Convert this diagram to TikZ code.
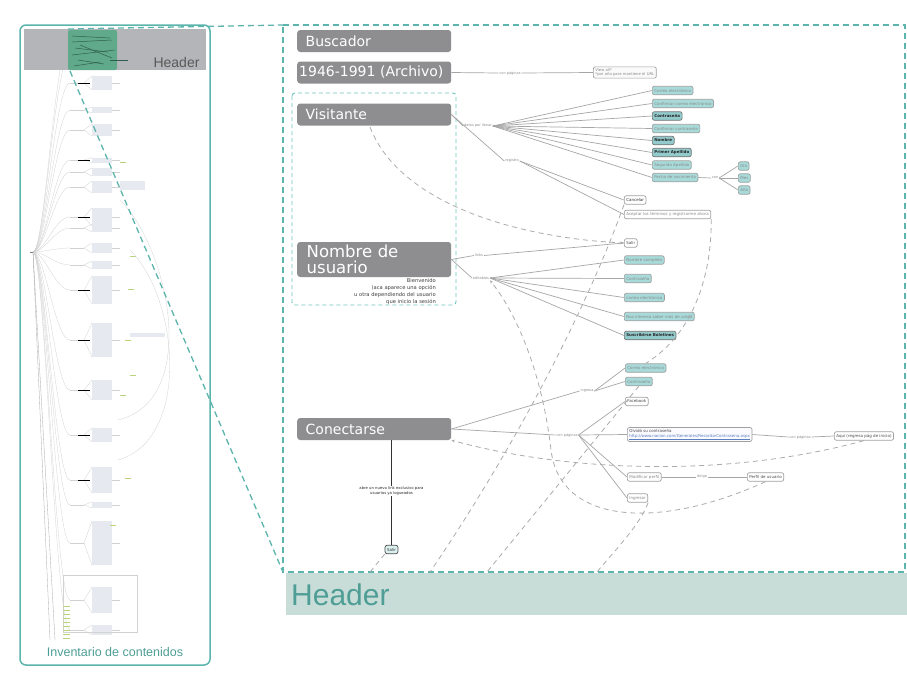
\documentclass[tikz,border=0pt]{standalone}
\usepackage{fontspec}
\setmainfont{DejaVu Sans}
\newfontfamily\hfont{Liberation Sans}
\usetikzlibrary{arrows.meta}
\definecolor{boxgray}{HTML}{8E8E90}
\definecolor{sgray}{HTML}{A0A0A0}
\definecolor{tealfill}{HTML}{A8DADA}
\definecolor{tealfilldk}{HTML}{93CACB}
\definecolor{txtgray}{HTML}{8A8A8A}
\definecolor{lgray}{HTML}{A6A6A6}
\definecolor{dgray}{HTML}{ABABAB}
\definecolor{tealborder}{HTML}{5CB5AC}
\definecolor{tealbox}{HTML}{6CC4BF}
\definecolor{headband}{HTML}{C8DCD8}
\definecolor{headtxt}{HTML}{4E9E96}
\definecolor{leftband}{HTML}{B4B5B9}
\definecolor{greenrect}{HTML}{60A98A}
\definecolor{darkgreen}{HTML}{2F5E4C}
\definecolor{urlblue}{HTML}{5A7FC0}
\definecolor{thumbblk}{HTML}{E6EAF0}
\definecolor{thumbline}{HTML}{D2D2D2}
\definecolor{thumbgreen}{HTML}{B9D47C}
\tikzset{
  bigbox/.style={rectangle, rounded corners=3pt, fill=boxgray, text=white,
    font=\fontsize{14}{15}\selectfont, minimum height=22pt, text width=137pt,
    inner xsep=8.5pt, inner ysep=0pt, align=left, anchor=west},
  smallbox/.style={rectangle, rounded corners=2pt, draw=sgray, line width=0.7pt,
    fill=white, font=\fontsize{4}{4.8}\selectfont, text=txtgray,
    inner xsep=2pt, inner ysep=1.5pt, minimum height=8.5pt, anchor=west},
  tealnode/.style={smallbox, fill=tealfill},
  tealbold/.style={smallbox, fill=tealfilldk, draw=gray!90!black, text=black!85,
    font=\fontsize{4}{4.8}\selectfont\bfseries},
  darknode/.style={smallbox, text=black!80},
  lbl/.style={font=\fontsize{3.5}{4}\selectfont, text=txtgray, fill=white, inner sep=0.8pt},
  conn/.style={draw=lgray, line width=0.7pt},
  dsh/.style={draw=dgray, line width=0.8pt, dash pattern=on 5pt off 4pt},
  tealdash/.style={draw=tealborder, line width=1.3pt, dash pattern=on 6pt off 4pt},
  thumb/.style={draw=thumbline, line width=0.3pt},
}
\begin{document}
\begin{tikzpicture}[x=1pt,y=-1pt]
\useasboundingbox (0,0) rectangle (907,675);
\fill[white] (0,0) rectangle (907,675);

% ================= LEFT PANEL (overview thumbnail) =================
\coordinate (root) at (33,252);
\foreach \yy/\hh in {40/4,55/3,83/14,110/6,130/12,160/5,172/8,187/12,217/18,228/8,248/10,265/8,290/28,340/34,390/20,435/14,480/26,505/6,543/44,600/26,630/10}{
  \draw[thumb] (root) .. controls (45,252) and (55,\yy) .. (70,\yy);
  \draw[thumb] (70,\yy) -- (84,\yy);
  \fill[thumbblk] (92,\yy-\hh/2) rectangle (112,\yy+\hh/2);
  \draw[thumb] (84,\yy) -- (92,\yy-\hh/2);
  \draw[thumb] (84,\yy) -- (92,\yy+\hh/2);
  \draw[thumb] (112,\yy) -- (120,\yy);
}
\foreach \yy in {83,160,217,290,340,390,435,480}{
  \draw[black, line width=0.8pt] (78,\yy) -- (90,\yy);
}
\foreach \yy/\xx in {162/120,256/130,289/128,340/125,375/130,395/120,478/125,525/110}{
  \draw[thumbgreen, line width=1pt] (\xx,\yy) -- (\xx+6,\yy);
}
\fill[thumbblk] (120,181) rectangle (145,190);
\fill[thumbblk] (130,333) rectangle (165,337);
\draw[thumb] (118,420) .. controls (200,400) and (170,250) .. (120,200);
\draw[thumb] (118,460) .. controls (190,440) and (180,300) .. (130,250);
\draw[thumb] (63,575) rectangle (137,632);
\foreach \yy in {606,610,614,618,622,626,630,634,638}{
  \draw[thumbgreen, line width=0.8pt] (63,\yy) -- (70,\yy);
}
\draw[gray, line width=0.4pt] (33,252) -- (30,252);
\draw[thumb, draw=gray!70] (root) -- (55,640);
\draw[thumb, draw=gray!70] (root) -- (50,640);

% header band in thumbnail
\fill[leftband] (24,29) rectangle (206,70);
\fill[greenrect, rounded corners=2pt] (68,30) rectangle (117,70);
\foreach \a/\b/\c/\d in {72/36/110/38, 72/42/112/40, 75/48/108/52, 72/55/115/50, 78/60/104/64, 80/45/112/58, 74/66/100/62}{
  \draw[darkgreen, line width=0.5pt] (\a,\b) -- (\c,\d);
}
\draw[darkgreen, line width=0.5pt] (110,60) -- (128,60);
\node[font=\hfont\fontsize{14}{16}\selectfont, text=black!65, anchor=base east] (lefthead) at (203,67) {Header};

\draw[draw=tealborder, line width=1.5pt, rounded corners=6pt] (20,25) rectangle (210,665);
\node[font=\hfont\fontsize{12.5}{14}\selectfont, text=headtxt] (inv) at (115,652) {Inventario de contenidos};

% ================= RIGHT PANEL =================
\fill[headband] (286,573) rectangle (907,615);
\node[font=\hfont\fontsize{30}{34}\selectfont, text=headtxt, anchor=west, inner sep=0pt] (header) at (291,595) {Header};

% zoom indicator lines
\draw[tealdash] (68,29) -- (283,25);
\draw[tealdash] (70,71) -- (283,572);
\draw[tealdash] (283,25) -- (905,25) -- (905,572) -- (283,572) -- cycle;

% Visitante group box
\draw[draw=tealbox, line width=0.9pt, dash pattern=on 4pt off 3pt, rounded corners=3pt] (292,93) rectangle (456,305);

% big gray nodes
\node[bigbox] (bus) at (297,41) {Buscador};
\node[bigbox, inner xsep=2pt, text width=150pt] (arch) at (297,72.5) {1946-1991 (Archivo)};
\node[bigbox] (vis) at (297,114.5) {Visitante};
\node[bigbox, font=\fontsize{16.5}{15.5}\selectfont, minimum height=35pt, inner xsep=9.5pt, text width=135pt] (nom) at (297,259.5) {Nombre de\\usuario};
\node[font=\fontsize{5.2}{6.8}\selectfont, text=black!75, align=right, anchor=north east, inner sep=0pt] (bienv) at (436,278.5) {Bienvenido\\(aca aparece una opción\\u otra dependiendo del usuario\\que inicio la sesión};
\node[bigbox] (con) at (297,429) {Conectarse};

% ---- Archivo
\node[lbl] (lcp1) at (510,73) {con páginas};
\node[smallbox, fill=gray!4, align=left, font=\fontsize{3.8}{4.6}\selectfont] (view) at (593,72.5) {View all*\\*por año para mantiene el URL};
\draw[conn] (arch.east) -- (lcp1.west);
\draw[conn] (lcp1.east) -- (view.west);

% ---- Visitante
\node[lbl] (dpl) at (478,126) {datos por llenar};
\node[tealnode] (v1) at (652,90.5) {Correo electrónico};
\node[tealnode] (v2) at (652,103.5) {Confirmar correo electrónico};
\node[tealbold] (v3) at (652,116) {Contraseña};
\node[tealnode] (v4) at (652,128.5) {Confirmar contraseña};
\node[tealbold] (v5) at (652,140.5) {Nombre};
\node[tealbold] (v6) at (652,152.5) {Primer Apellido};
\node[tealnode] (v7) at (652,165) {Segundo Apellido};
\node[tealnode] (v8) at (652,177.5) {Fecha de nacimiento};
\node[lbl] (lcon) at (715,178) {con};
\node[tealnode] (d1) at (738,166) {Día};
\node[tealnode] (d2) at (738,178) {Mes};
\node[tealnode] (d3) at (738,190) {Año};
\draw[conn] (vis.east) -- (dpl.west);
\foreach \n in {v1,v2,v3,v4,v5,v6,v7,v8}{\draw[conn] (dpl.east) -- (\n.west);}
\draw[conn] (v8.east) -- (lcon.west);
\foreach \n in {d1,d2,d3}{\draw[conn] (lcon.east) -- (\n.west);}

\node[lbl] (lreg) at (512,161) {registro};
\node[darknode] (canc) at (624,200) {Cancelar};
\node[smallbox] (acep) at (624,214.5) {Aceptar los términos y registrarme ahora};
\draw[conn] (vis.east) -- (lreg.west);
\draw[conn] (lreg.east) -- (canc.west);
\draw[conn] (lreg.east) -- (acep.west);

% ---- Nombre de usuario
\node[lbl] (llinks) at (479,255.5) {links};
\node[smallbox, text=black!70] (salir1) at (624,243) {Salir};
\draw[conn] (nom.east) -- (llinks.west);
\draw[conn] (llinks.east) -- (salir1.west);
\node[lbl] (ledit) at (481,278) {editables};
\node[tealnode] (e1) at (624,260) {Nombre completo};
\node[tealnode] (e2) at (624,278.5) {Contraseña};
\node[tealnode] (e3) at (624,297.5) {correo electrónico};
\node[tealnode] (e4) at (624,316.5) {Nos interesa saber más de usted};
\node[tealbold] (e5) at (624,335.5) {Suscribirse Boletines};
\draw[conn] (nom.east) -- (ledit.west);
\foreach \n in {e1,e2,e3,e4,e5}{\draw[conn] (ledit.east) -- (\n.west);}

% ---- Conectarse
\node[lbl] (ling) at (587,391) {ingresa};
\node[tealnode] (c1) at (625,368) {Correo electrónico};
\node[tealnode] (c2) at (625,381.5) {Contraseña};
\draw[conn] (con.east) -- (ling.west);
\draw[conn] (ling.east) -- (c1.west);
\draw[conn] (ling.east) -- (c2.west);
\node[lbl] (lcp2) at (567,435) {con páginas};
\node[smallbox, text=black!70] (fb) at (625,401.5) {Facebook};
\node[smallbox, fill=blue!2, align=left, text=black!70] (olv) at (627,434.5) {Olvidó su contraseña\\{\color{urlblue}\underline{http://www.nacion.com/Generales/RecordarContrasena.aspx}}};
\node[smallbox] (modp) at (627,477) {Modificar perfil};
\node[smallbox] (ingr) at (627,498) {Ingresar};
\draw[conn] (con.east) -- (lcp2.west);
\foreach \n in {fb,olv,modp,ingr}{\draw[conn] (lcp2.east) -- (\n.west);}
\node[lbl] (lcp3) at (800,437) {con páginas};
\node[smallbox, text=black!70] (aqui) at (834,436) {Aquí (regresa pág de inicio)};
\draw[conn] (olv.east) -- (lcp3.west);
\draw[conn] (lcp3.east) -- (aqui.west);
\node[lbl] (ldir) at (702,477) {dirige};
\node[smallbox, text=black!70] (perf) at (747,477) {Perfil de usuario};
\draw[conn] (modp.east) -- (ldir.west);
\draw[conn] (ldir.east) -- (perf.west);

\node[smallbox, fill=tealfill!40, draw=black!70, text=black!80, anchor=center] (salir2) at (391.5,549.5) {Salir};
\coordinate (conbot) at (391.5,440);
\draw[black!80, line width=0.8pt] (conbot) -- (salir2.north);
\node[font=\fontsize{3.8}{4.8}\selectfont, text=black!85, fill=white, inner sep=1pt, align=center] (labre) at (391.5,491) {abre un nuevo link exclusivo para\\usuarios ya logueados};

% ---- dashed relations
\coordinate (hd1) at (370,572);
\coordinate (hd2) at (430,572);
\coordinate (hd3) at (487,572);
\coordinate (hd4) at (597,572);
\draw[dsh, -{Stealth[length=3.5pt,width=3pt]}] (370,127) .. controls (400,205) and (520,238) .. (salir1.west);
\draw[dsh, -{Stealth[length=3.5pt,width=3pt]}] (perf.south) .. controls (660,530) and (560,525) .. (551,450) .. controls (543,380) and (520,318) .. (ledit.south east);
\draw[dsh] (acep.south east) .. controls (712,262) and (700,330) .. (c1.north);
\draw[dsh] (canc.south west) .. controls (590,300) and (520,440) .. (hd2);
\draw[dsh] (c2.south) -- (hd3);
\draw[dsh] (ingr.south east) .. controls (640,525) and (615,550) .. (hd4);
\draw[dsh] (salir2.south west) -- (hd1);
\draw[dsh, -{Stealth[length=3.5pt,width=3pt]}] (aqui.south) .. controls (720,480) and (560,470) .. (con.south east);
\end{tikzpicture}
\end{document}
